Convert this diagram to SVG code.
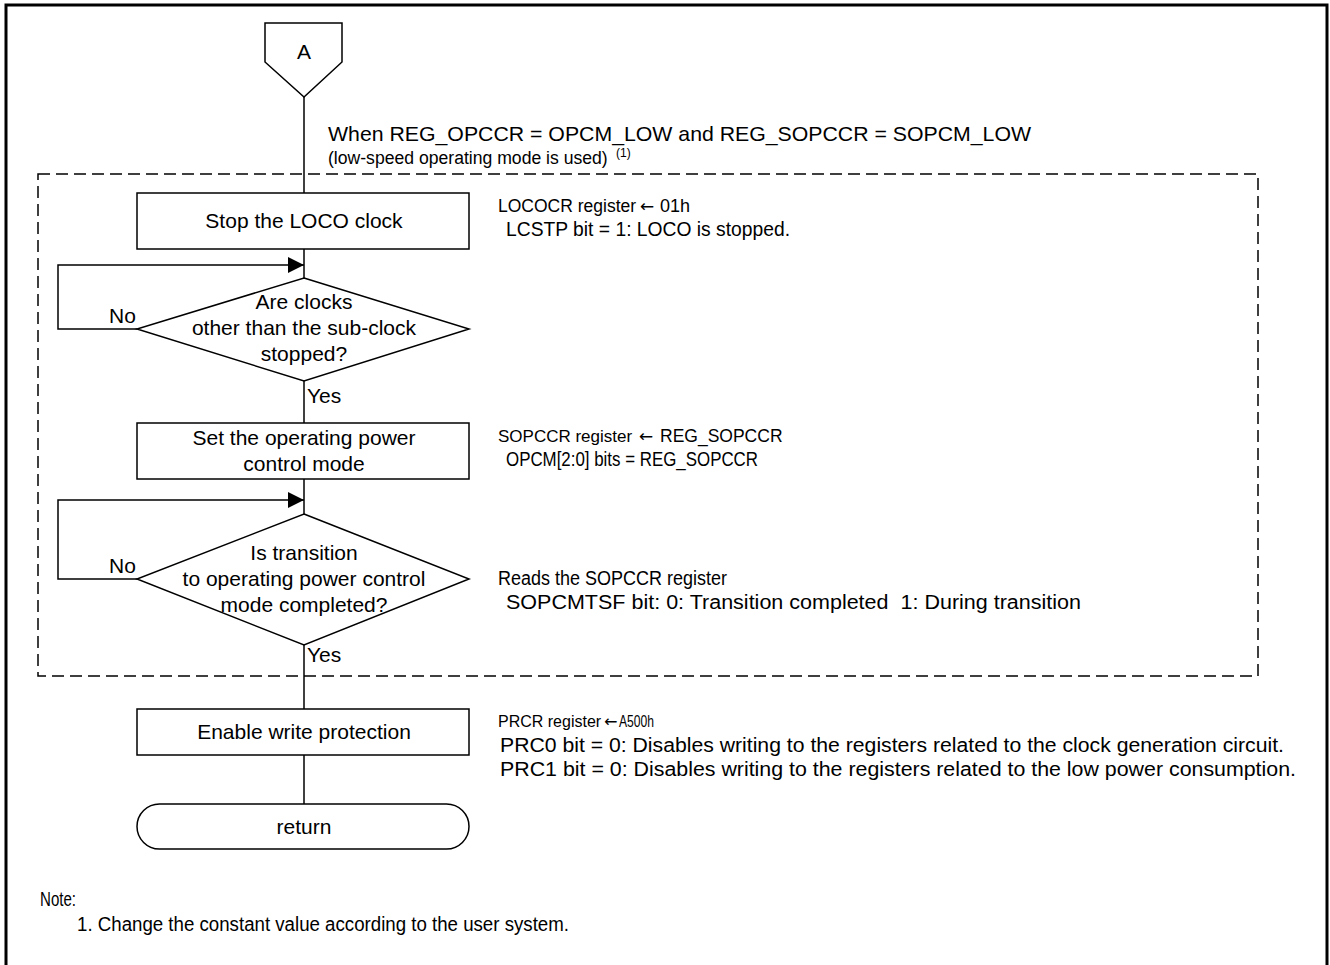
<svg xmlns="http://www.w3.org/2000/svg" width="1330" height="965" viewBox="0 0 1330 965">
<defs>
<style>
.s{fill:#fff;stroke:#000;stroke-width:1.5}
.c{fill:none;stroke:#000;stroke-width:1.5}
.t{font-family:"Liberation Sans",Arial,sans-serif;font-size:21px;fill:#000}
.m{text-anchor:middle}
.r{font-family:"Liberation Sans",Arial,sans-serif;font-size:19.5px;fill:#000}
.a{font-family:"DejaVu Sans",sans-serif;font-size:17px;fill:#000}
.sup{font-family:"Liberation Sans",Arial,sans-serif;font-size:12px;fill:#000}
</style>
<marker id="ah" markerUnits="userSpaceOnUse" markerWidth="18" markerHeight="16" refX="16" refY="8" orient="auto">
<path d="M0,0 L16,8 L0,16 Z" fill="#000"/>
</marker>
</defs>
<rect width="1330" height="965" fill="#fff"/>
<path d="M6,965 V5 H1327 V965" fill="none" stroke="#000" stroke-width="3"/>
<rect x="38" y="174" width="1220" height="502" fill="none" stroke="#000" stroke-width="1.5" stroke-dasharray="12 6"/>
<g id="connectors">
<path class="c" d="M304,97 V193"/>
<path class="c" d="M304,249 V278"/>
<path class="c" d="M304,381 V423"/>
<path class="c" d="M304,479 V514"/>
<path class="c" d="M304,645 V709"/>
<path class="c" d="M304,755 V804"/>
<path class="c" d="M137,329 H58 V265 H304" marker-end="url(#ah)"/>
<path class="c" d="M137,579 H58 V500 H304" marker-end="url(#ah)"/>
<text class="t" x="109" y="323">No</text>
<text class="t" x="307" y="403">Yes</text>
<text class="t" x="109" y="573">No</text>
<text class="t" x="307" y="662">Yes</text>
</g>
<g id="nodeA">
<path class="s" d="M265,23 H342 V62 L304,97 L265,62 Z"/>
<text class="t m" x="304" y="59">A</text>
</g>
<g id="condition">
<text class="t" x="328" y="141" textLength="703" lengthAdjust="spacingAndGlyphs">When REG_OPCCR = OPCM_LOW and REG_SOPCCR = SOPCM_LOW</text>
<text class="r" x="328" y="164" style="font-size:17.6px">(low-speed operating mode is used)</text>
<text class="sup" x="616" y="157">(1)</text>
</g>
<g id="stopLoco">
<rect class="s" x="137" y="193" width="332" height="56"/>
<text class="t m" x="304" y="228">Stop the LOCO clock</text>
</g>
<g id="checkClocks">
<path class="s" d="M304,278 L469,329 L304,381 L137,329 Z"/>
<text class="t m" x="304" y="309">Are clocks</text>
<text class="t m" x="304" y="335">other than the sub-clock</text>
<text class="t m" x="304" y="361">stopped?</text>
</g>
<g id="setMode">
<rect class="s" x="137" y="423" width="332" height="56"/>
<text class="t m" x="304" y="445">Set the operating power</text>
<text class="t m" x="304" y="471">control mode</text>
</g>
<g id="checkTransition">
<path class="s" d="M304,514 L469,579 L304,645 L137,579 Z"/>
<text class="t m" x="304" y="560">Is transition</text>
<text class="t m" x="304" y="586">to operating power control</text>
<text class="t m" x="304" y="612">mode completed?</text>
</g>
<g id="enableProtect">
<rect class="s" x="137" y="709" width="332" height="46"/>
<text class="t m" x="304" y="739">Enable write protection</text>
</g>
<g id="return">
<rect class="s" x="137" y="804" width="332" height="45" rx="22.5" ry="22.5"/>
<text class="t m" x="304" y="834">return</text>
</g>
<g id="notes">
<text class="r" x="498" y="212" style="font-size:17.5px">LOCOCR register</text>
<text class="a" x="640" y="212">←</text>
<text class="r" x="660" y="212" style="font-size:18px">01h</text>
<text class="r" x="506" y="236" textLength="284" lengthAdjust="spacingAndGlyphs">LCSTP bit = 1: LOCO is stopped.</text>
<text class="r" x="498" y="442" style="font-size:17px">SOPCCR register</text>
<text class="a" x="639" y="442">←</text>
<text class="r" x="660" y="442" style="font-size:17.5px">REG_SOPCCR</text>
<text class="r" x="506" y="466" textLength="252" lengthAdjust="spacingAndGlyphs">OPCM[2:0] bits = REG_SOPCCR</text>
<text class="r" x="498" y="585" textLength="229" lengthAdjust="spacingAndGlyphs">Reads the SOPCCR register</text>
<text class="r" x="506" y="609" textLength="575" lengthAdjust="spacingAndGlyphs" xml:space="preserve">SOPCMTSF bit: 0: Transition completed  1: During transition</text>
<text class="r" x="498" y="727" style="font-size:16px">PRCR register</text>
<text class="a" x="604" y="727" style="font-size:16px">←</text>
<text class="r" x="619" y="727" style="font-size:16px" textLength="35" lengthAdjust="spacingAndGlyphs">A500h</text>
<text class="r" x="500" y="752" textLength="784" lengthAdjust="spacingAndGlyphs">PRC0 bit = 0: Disables writing to the registers related to the clock generation circuit.</text>
<text class="r" x="500" y="776" textLength="796" lengthAdjust="spacingAndGlyphs">PRC1 bit = 0: Disables writing to the registers related to the low power consumption.</text>
<text class="r" x="40" y="906" textLength="36" lengthAdjust="spacingAndGlyphs">Note:</text>
<text class="r" x="77" y="931" textLength="492" lengthAdjust="spacingAndGlyphs">1. Change the constant value according to the user system.</text>
</g>
</svg>
